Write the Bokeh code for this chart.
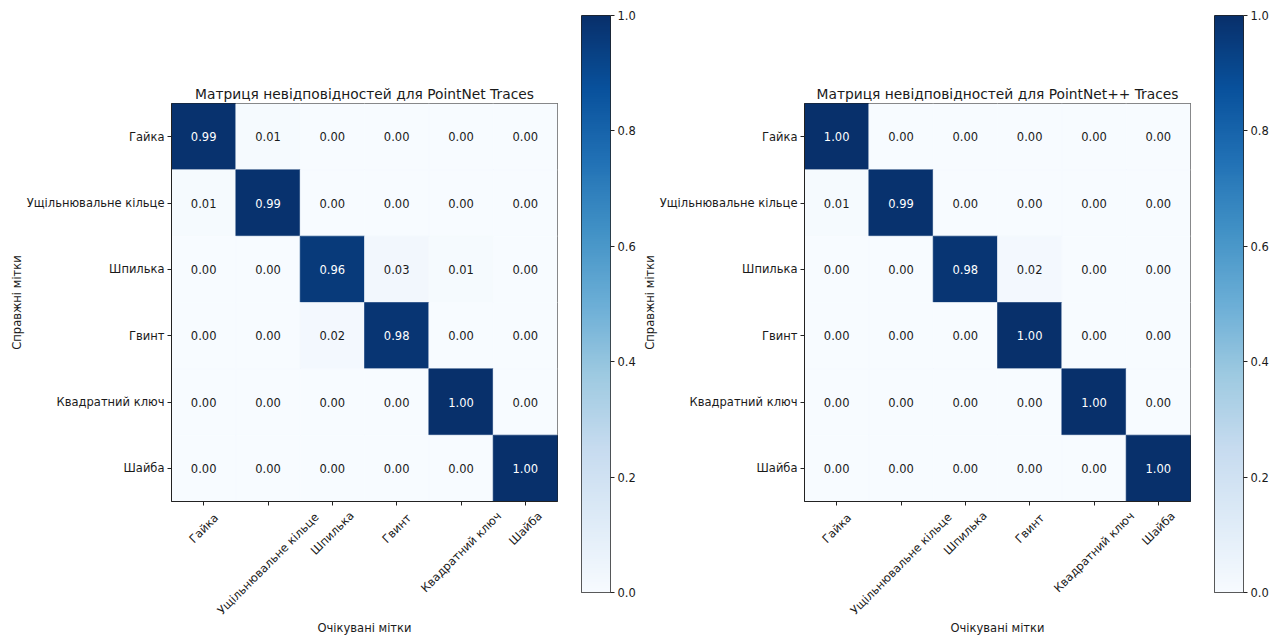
import math
import numpy as np
from bokeh.plotting import figure
from bokeh.models import (Range1d, FixedTicker, LinearColorMapper, ColumnDataSource,
                          PrintfTickFormatter)
from bokeh.layouts import row, column
from bokeh.palettes import Blues256
from bokeh.transform import transform
from bokeh.core.properties import value
from bokeh.embed import file_html
from bokeh.resources import INLINE

# Class names (rows = true labels, columns = predicted labels)
classes = ["Гайка", "Ущільнювальне кільце", "Шпилька", "Гвинт", "Квадратний ключ", "Шайба"]

# Normalised confusion matrices
cm_pointnet = [
    [0.99, 0.01, 0.00, 0.00, 0.00, 0.00],
    [0.01, 0.99, 0.00, 0.00, 0.00, 0.00],
    [0.00, 0.00, 0.96, 0.03, 0.01, 0.00],
    [0.00, 0.00, 0.02, 0.98, 0.00, 0.00],
    [0.00, 0.00, 0.00, 0.00, 1.00, 0.00],
    [0.00, 0.00, 0.00, 0.00, 0.00, 1.00],
]
cm_pointnet_pp = [
    [1.00, 0.00, 0.00, 0.00, 0.00, 0.00],
    [0.01, 0.99, 0.00, 0.00, 0.00, 0.00],
    [0.00, 0.00, 0.98, 0.02, 0.00, 0.00],
    [0.00, 0.00, 0.00, 1.00, 0.00, 0.00],
    [0.00, 0.00, 0.00, 0.00, 1.00, 0.00],
    [0.00, 0.00, 0.00, 0.00, 0.00, 1.00],
]
titles = ["Матриця невідповідностей для PointNet Traces",
          "Матриця невідповідностей для PointNet++ Traces"]
x_title = "Очікувані мітки"
y_title = "Справжні мітки"
cbar_ticks = [0.0, 0.2, 0.4, 0.6, 0.8, 1.0]

FONT = "DejaVu Sans"
FS = 11.5
TXT = "#1a1a1a"
EDGE = "#222222"
palette = list(Blues256[::-1])   # light -> dark

FRAME_W, FRAME_H = 386, 398
TOP = 103
GAP = 8                # space under the matrix that holds the tick marks
LABEL_H = 639 - TOP - FRAME_H - GAP


def mapper():
    return LinearColorMapper(palette=palette, low=0.0, high=1.0)


def base_style(p):
    p.background_fill_color = "white"
    p.border_fill_color = "white"
    p.grid.visible = False


def matrix_panel(title, cm, left_border):
    n = len(classes)
    xs, ys, vs, txt, tcol = [], [], [], [], []
    for i in range(n):
        for j in range(n):
            v = cm[i][j]
            xs.append(j)
            ys.append(i)
            vs.append(v)
            txt.append(f"{v:.2f}")
            tcol.append("white" if v > 0.5 else TXT)
    src = ColumnDataSource(dict(x=xs, y=ys, v=vs, txt=txt, tcol=tcol))

    xr = Range1d(-0.5, n - 0.5)
    p = figure(frame_width=FRAME_W, frame_height=FRAME_H,
               min_border_left=left_border, min_border_right=10,
               min_border_top=TOP, min_border_bottom=GAP,
               x_range=xr, y_range=Range1d(n - 0.5, -0.5),
               output_backend="svg", toolbar_location=None, title=title)
    p.frame_align = False
    base_style(p)
    p.outline_line_color = EDGE
    p.outline_line_width = 1

    p.title.align = "center"
    p.title.text_font = FONT
    p.title.text_font_size = "13.8px"
    p.title.text_font_style = "normal"
    p.title.text_color = TXT
    p.title.standoff = 4

    cmap = mapper()
    p.rect(x="x", y="y", width=1, height=1, source=src,
           fill_color=transform("v", cmap), line_color=transform("v", cmap), line_width=0.6)
    p.text(x="x", y="y", text="txt", source=src, text_color="tcol",
           text_align="center", text_baseline="middle",
           text_font=value(FONT), text_font_size=f"{FS}px")

    # y axis: class names
    ya = p.yaxis[0]
    ya.ticker = FixedTicker(ticks=list(range(n)))
    ya.major_label_overrides = {i: c for i, c in enumerate(classes)}
    ya.minor_tick_line_color = None
    ya.major_tick_in = 0
    ya.major_tick_out = 4
    ya.major_label_standoff = 3
    ya.major_label_text_font = FONT
    ya.major_label_text_font_size = f"{FS}px"
    ya.major_label_text_color = TXT
    ya.axis_line_color = EDGE
    ya.major_tick_line_color = EDGE
    ya.axis_label = y_title
    ya.axis_label_text_font = FONT
    ya.axis_label_text_font_size = f"{FS}px"
    ya.axis_label_text_font_style = "normal"
    ya.axis_label_text_color = TXT
    ya.axis_label_standoff = 0

    # x axis: tick marks only; the names go in the strip below
    xa = p.xaxis[0]
    xa.ticker = FixedTicker(ticks=list(range(n)))
    xa.major_label_overrides = {i: "" for i in range(n)}
    xa.major_label_text_font_size = "0px"
    xa.major_label_standoff = 0
    xa.minor_tick_line_color = None
    xa.major_tick_in = 0
    xa.major_tick_out = 4
    xa.axis_line_color = EDGE
    xa.major_tick_line_color = EDGE

    # strip under the matrix: rotated class names centred on their columns
    q = figure(frame_width=FRAME_W, frame_height=LABEL_H,
               min_border_left=left_border, min_border_right=10,
               min_border_top=0, min_border_bottom=0,
               x_range=xr, y_range=Range1d(0, LABEL_H),
               x_axis_location=None, y_axis_location=None,
               output_backend="svg", toolbar_location=None)
    q.frame_align = False
    base_style(q)
    q.outline_line_color = None

    ly = []
    for c in classes:
        w = 0.58 * FS * len(c)
        centre_below = 11 + (w + FS) / (2 * math.sqrt(2))
        ly.append(LABEL_H - (centre_below - GAP))
    lsrc = ColumnDataSource(dict(x=list(range(n)), y=ly, t=classes))
    q.text(x="x", y="y", text="t", source=lsrc, angle=math.pi / 4,
           text_align="center", text_baseline="middle",
           text_font=value(FONT), text_font_size=f"{FS}px", text_color=TXT)
    q.text(x=[(n - 1) / 2], y=[LABEL_H - (126 - GAP)], text=[x_title],
           text_align="center", text_baseline="middle",
           text_font=value(FONT), text_font_size=f"{FS}px", text_color=TXT)
    return column(p, q, spacing=0)


def colorbar_figure(right_border):
    p = figure(frame_width=29, frame_height=577,
               min_border_left=14, min_border_right=right_border,
               min_border_top=15, min_border_bottom=47,
               x_range=Range1d(0, 1), y_range=Range1d(0, 1),
               x_axis_location=None, y_axis_location="right",
               output_backend="svg", toolbar_location=None)
    p.frame_align = False
    base_style(p)
    p.outline_line_color = EDGE
    p.outline_line_width = 1
    grad = np.linspace(0.0, 1.0, 256).reshape(256, 1)
    p.image(image=[grad], x=0, y=0, dw=1, dh=1, color_mapper=mapper())
    ya = p.yaxis[0]
    ya.ticker = FixedTicker(ticks=cbar_ticks)
    ya.formatter = PrintfTickFormatter(format="%.1f")
    ya.minor_tick_line_color = None
    ya.major_tick_in = 0
    ya.major_tick_out = 4
    ya.major_label_standoff = 3
    ya.axis_line_color = None
    ya.major_tick_line_color = EDGE
    ya.major_label_text_font = FONT
    ya.major_label_text_font_size = f"{FS}px"
    ya.major_label_text_color = TXT
    return p


left = matrix_panel(titles[0], cm_pointnet, 171)
left_cb = colorbar_figure(28)
right = matrix_panel(titles[1], cm_pointnet_pp, 166)
right_cb = colorbar_figure(40)

layout = row(left, left_cb, right, right_cb, spacing=0)

with open("out.html", "w") as f:
    f.write(file_html(layout, INLINE))
